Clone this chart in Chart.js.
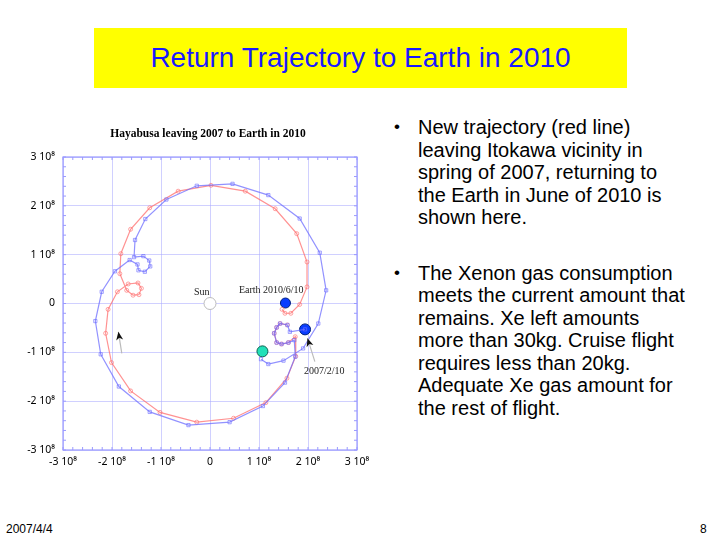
<!DOCTYPE html>
<html>
<head>
<meta charset="utf-8">
<script src="https://cdn.jsdelivr.net/npm/chart.js@4.4.0/dist/chart.umd.min.js"></script>
<style>
    body { margin: 0; width: 720px; height: 540px; background: #fff; position: relative; overflow: hidden; font-family: 'Liberation Sans', Arial, sans-serif; }
    #banner { position: absolute; left: 94px; top: 28px; width: 533px; height: 60px; background: #ffff00; }
    #banner h1 { margin: 0; font-weight: normal; font-size: 28px; color: #1a1aff; text-align: center; line-height: 60px; }
    #chartBox { position: absolute; left: 20px; top: 120px; width: 360px; height: 355px; }
    #notes { position: absolute; left: 390px; top: 116px; width: 330px; font-size: 20px; line-height: 22.5px; color: #000; }
    #notes ul { margin: 0; padding: 0 0 0 28px; list-style: none; }
    #notes li { position: relative; margin-bottom: 33px; }
    #notes li::before { content: '\2022'; position: absolute; left: -24px; font-size: 17px; }
    .foot { position: absolute; top: 522px; font-size: 12px; }
</style>
</head>
<body>
<div id="banner"><h1>Return Trajectory to Earth in 2010</h1></div>
<div id="chartBox"><canvas id="trajChart"></canvas></div>
<div id="notes">
    <ul>
        <li>New trajectory (red line)<br>leaving Itokawa vicinity in<br>spring of 2007, returning to<br>the Earth in June of 2010 is<br>shown here.</li>
        <li>The Xenon gas consumption<br>meets the current amount that<br>remains. Xe left amounts<br>more than 30kg. Cruise flight<br>requires less than 20kg.<br>Adequate Xe gas amount for<br>the rest of flight.</li>
    </ul>
</div>
<div class="foot" style="left:6px;">2007/4/4</div>
<div class="foot" style="left:700px;">8</div>

<script>
// Axis ticks, units of 10^8 km
const tickValues = [-3, -2, -1, 0, 1, 2, 3];

// New trajectory (red)
const redX = [1.58, 1.43, 1.36, 1.31, 1.36, 1.46, 1.60, 1.74, 1.75, 1.57, 1.14, 0.48, -0.27, -1.02, -1.62, -2.01, -2.13, -2.08, -1.89,
    -1.67, -1.47, -1.40, -1.45, -1.57, -1.70, -1.84, -1.82, -1.62, -1.23, -0.65, 0.02, 0.72, 1.33, 1.77, 1.98, 1.98, 1.83, 1.65, 1.53, 1.47];
const redY = [-0.44, -0.41, -0.49, -0.61, -0.80, -0.83, -0.80, -0.68, -1.08, -1.53, -2.03, -2.35, -2.43, -2.23, -1.79, -1.21, -0.61, -0.12, 0.24,
    0.40, 0.42, 0.31, 0.18, 0.17, 0.27, 0.61, 1.02, 1.52, 1.96, 2.30, 2.42, 2.30, 1.94, 1.43, 0.85, 0.34, -0.02, -0.20, -0.20, -0.12];

// Old trajectory (blue)
const blueX = [1.94, 1.63, 1.58, 1.43, 1.36, 1.31, 1.36, 1.46, 1.60, 1.72, 1.74, 1.53, 1.08, 0.40, -0.44, -1.23, -1.86, -2.23, -2.34, -2.21, -1.94, -1.64,
    -1.48, -1.46, -1.33, -1.22, -1.24, -1.36, -1.55, -1.53, -1.32, -0.89, -0.27, 0.46, 1.19, 1.83, 2.24, 2.37, 2.21, 1.90, 1.50, 1.19, 1.04];
const blueY = [-0.53, -0.58, -0.44, -0.41, -0.49, -0.61, -0.80, -0.83, -0.80, -0.75, -1.09, -1.62, -2.10, -2.43, -2.49, -2.22, -1.70, -1.04, -0.36, 0.24, 0.66, 0.89,
    0.80, 0.68, 0.65, 0.76, 0.88, 0.97, 0.95, 1.30, 1.73, 2.13, 2.41, 2.45, 2.22, 1.74, 1.04, 0.27, -0.41, -0.92, -1.17, -1.24, -1.14];

// Marked positions
const sunPos = [0, 0];
const earthArrival = [1.54, 0.01];
const departurePos = [1.94, -0.53];
const oldArrival = [1.07, -0.98];

function toPoints(xs, ys) {
    return xs.map((x, i) => ({ x: x, y: ys[i] }));
}

const frameColor = '#9a9aff';

// Title, frame, minor ticks, labels and arrows
const decorPlugin = {
    id: 'decor',
    afterDraw(chart) {
        const ctx = chart.ctx;
        const xs = chart.scales.x;
        const ys = chart.scales.y;
        const a = chart.chartArea;
        ctx.save();

        ctx.fillStyle = '#000';
        ctx.font = 'bold 11.5px "Liberation Serif", serif';
        ctx.textAlign = 'center';
        ctx.textBaseline = 'middle';
        ctx.fillText('Hayabusa leaving 2007 to Earth in 2010', (a.left + a.right) / 2 - 2, 14);

        ctx.strokeStyle = frameColor;
        ctx.lineWidth = 1.2;
        ctx.strokeRect(a.left, a.top, a.right - a.left, a.bottom - a.top);

        // minor ticks, pointing inwards
        ctx.lineWidth = 1;
        for (let v = -3; v <= 3.001; v += 0.2) {
            const px = xs.getPixelForValue(v);
            const py = ys.getPixelForValue(v);
            ctx.beginPath();
            ctx.moveTo(px, a.bottom); ctx.lineTo(px, a.bottom - 3);
            ctx.moveTo(px, a.top); ctx.lineTo(px, a.top + 3);
            ctx.moveTo(a.left, py); ctx.lineTo(a.left + 3, py);
            ctx.moveTo(a.right, py); ctx.lineTo(a.right - 3, py);
            ctx.stroke();
        }

        // labels
        ctx.font = '10px "Liberation Serif", serif';
        ctx.fillStyle = '#222';
        ctx.fillText('Sun', xs.getPixelForValue(-0.17), ys.getPixelForValue(0.23));
        ctx.fillText('Earth 2010/6/10', xs.getPixelForValue(1.25), ys.getPixelForValue(0.27));
        ctx.fillText('2007/2/10', xs.getPixelForValue(2.33), ys.getPixelForValue(-1.38));

        // arrows
        drawArrow(ctx, xs.getPixelForValue(-1.80), ys.getPixelForValue(-1.02), xs.getPixelForValue(-1.87), ys.getPixelForValue(-0.58));
        drawArrow(ctx, xs.getPixelForValue(2.14), ys.getPixelForValue(-1.19), xs.getPixelForValue(1.99), ys.getPixelForValue(-0.71));
        ctx.restore();
    }
};

function drawArrow(ctx, x0, y0, x1, y1) {
    const ang = Math.atan2(y1 - y0, x1 - x0);
    ctx.strokeStyle = '#bbb';
    ctx.lineWidth = 1.2;
    ctx.beginPath();
    ctx.moveTo(x0, y0);
    ctx.lineTo(x1, y1);
    ctx.stroke();
    ctx.fillStyle = '#111';
    ctx.beginPath();
    ctx.moveTo(x1, y1);
    ctx.lineTo(x1 - 9 * Math.cos(ang - 0.4), y1 - 9 * Math.sin(ang - 0.4));
    ctx.lineTo(x1 - 6 * Math.cos(ang), y1 - 6 * Math.sin(ang));
    ctx.lineTo(x1 - 9 * Math.cos(ang + 0.4), y1 - 9 * Math.sin(ang + 0.4));
    ctx.closePath();
    ctx.fill();
}

function markerSet(pos, fill, border, r) {
    return {
        data: [{ x: pos[0], y: pos[1] }],
        pointRadius: r,
        pointBackgroundColor: fill,
        pointBorderColor: border,
        pointBorderWidth: 1,
        showLine: false
    };
}

const tickLabel = v => (v === 0 ? '0' : v + ' 10\u2078');

new Chart(document.getElementById('trajChart'), {
    type: 'scatter',
    data: {
        datasets: [
            {
                label: 'Old trajectory',
                data: toPoints(blueX, blueY),
                showLine: true,
                borderColor: 'rgba(110,110,255,0.75)',
                borderWidth: 1.2,
                pointStyle: 'rect',
                pointRadius: 2.3,
                pointBackgroundColor: 'rgba(255,255,255,0)',
                pointBorderColor: 'rgba(110,110,255,0.8)',
                pointBorderWidth: 0.8
            },
            {
                label: 'New trajectory',
                data: toPoints(redX, redY),
                showLine: true,
                borderColor: 'rgba(255,110,110,0.75)',
                borderWidth: 1.2,
                pointStyle: 'circle',
                pointRadius: 2,
                pointBackgroundColor: 'rgba(255,255,255,0)',
                pointBorderColor: 'rgba(255,110,110,0.8)',
                pointBorderWidth: 0.8
            },
            markerSet(sunPos, '#fff', '#bbb', 6),
            markerSet(earthArrival, '#0a3cff', '#002080', 5),
            markerSet(departurePos, '#0a3cff', '#002080', 5.5),
            markerSet(oldArrival, '#22e0b8', '#106050', 5.5)
        ]
    },
    options: {
        responsive: true,
        maintainAspectRatio: false,
        animation: false,
        layout: { padding: { top: 37, right: 23, left: 0, bottom: 0 } },
        plugins: {
            legend: { display: false },
            tooltip: { enabled: false }
        },
        scales: {
            x: {
                type: 'linear',
                min: -3,
                max: 3,
                afterBuildTicks: s => { s.ticks = tickValues.map(v => ({ value: v })); },
                afterFit: s => { s.height = 25; },
                grid: { color: 'rgba(170,170,255,0.55)', drawTicks: false, lineWidth: 1 },
                border: { display: false },
                ticks: { color: '#000', padding: 6, maxRotation: 0, font: { family: 'Noto Sans', size: 10.5 }, callback: tickLabel }
            },
            y: {
                type: 'linear',
                min: -3,
                max: 3,
                afterBuildTicks: s => { s.ticks = tickValues.map(v => ({ value: v })); },
                afterFit: s => { s.width = 43; },
                grid: { color: 'rgba(170,170,255,0.55)', drawTicks: false, lineWidth: 1 },
                border: { display: false },
                ticks: { color: '#000', padding: 8, font: { family: 'Noto Sans', size: 10.5 }, callback: tickLabel }
            }
        }
    },
    plugins: [decorPlugin]
});
</script>
</body>
</html>
